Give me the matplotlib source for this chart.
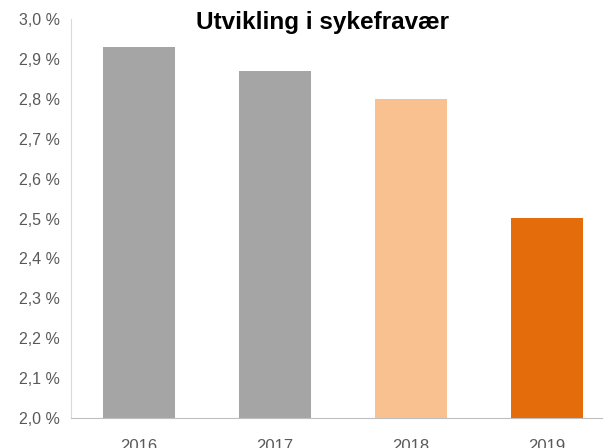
import matplotlib.pyplot as plt
import matplotlib.ticker as mticker

plt.rcParams['font.family'] = ['Liberation Sans', 'DejaVu Sans']

years = ['2016', '2017', '2018', '2019']
fravaer = [2.93, 2.87, 2.80, 2.50]
farger = ['#A5A5A5', '#A5A5A5', '#F9C190', '#E46C0A']

fig = plt.figure(figsize=(6.03, 4.48), dpi=100)
ax = fig.add_axes([71 / 603, 30 / 448, 544 / 603, 399 / 448])

ax.bar(years, fravaer, width=0.53, color=farger, bottom=0)
ax.set_ylim(2.0, 3.0)
ax.set_xlim(-0.5, 3.5)
ax.yaxis.set_major_locator(mticker.MultipleLocator(0.1))
ax.yaxis.set_major_formatter(mticker.FuncFormatter(lambda v, p: f'{v:.1f} %'.replace('.', ',')))

for s in ['top', 'right']:
    ax.spines[s].set_visible(False)
ax.spines['left'].set_color('#D9D9D9')
ax.spines['bottom'].set_color('#BFBFBF')
ax.tick_params(axis='both', length=0, colors='#595959', labelsize=11.5)
ax.tick_params(axis='x', pad=15, labelsize=12)
ax.tick_params(axis='y', pad=8)

fig.text(322 / 603, 1 - 22 / 448, 'Utvikling i sykefravær', ha='center', va='center',
         fontsize=17.5, fontweight='bold', color='black')

fig.savefig('out.png', dpi=100)
